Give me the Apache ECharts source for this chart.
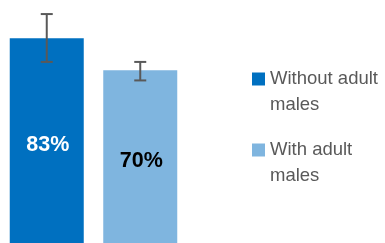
<!DOCTYPE html>
<html>
<head>
<meta charset="utf-8">
<script src="https://cdn.jsdelivr.net/npm/echarts@6/dist/echarts.min.js"></script>
<style>
  html, body { margin: 0; padding: 0; background: #fff; }
  #chart { width: 385px; height: 243px; }
</style>
</head>
<body>
<div id="chart"></div>
<script>
// Values
const categories = ['Without adult males', 'With adult males'];
const values = [83, 70];
const errLow = [73.4, 65.9];
const errHigh = [92.8, 73.4];
const barColors = ['#0070C0', '#7FB5DF'];
const labelColors = ['#ffffff', '#000000'];

const chart = echarts.init(document.getElementById('chart'));

// One bar series per group so that each gets its own legend entry
const barSeries = categories.map((name, i) => ({
    name: name,
    type: 'bar',
    barWidth: 74,
    barGap: '-100%',
    itemStyle: { color: barColors[i] },
    data: values.map((v, j) => (j === i ? v : '-')),
    label: {
        show: true,
        position: 'inside',
        offset: [1, 4],
        formatter: '{c}%',
        color: labelColors[i],
        fontFamily: "'Liberation Sans', Arial, sans-serif",
        fontWeight: 'bold',
        fontSize: 21.5
    },
    z: 2
}));

// Error bars drawn from the low/high arrays
const errorSeries = {
    type: 'custom',
    name: 'error',
    z: 3,
    data: categories.map((c, i) => [i, errLow[i], errHigh[i]]),
    renderItem: function (params, api) {
        const lo = api.coord([api.value(0), api.value(1)]);
        const hi = api.coord([api.value(0), api.value(2)]);
        const half = 6;
        const style = { stroke: '#595959', lineWidth: 2 };
        return {
            type: 'group',
            children: [
                { type: 'line', shape: { x1: hi[0], y1: hi[1], x2: lo[0], y2: lo[1] }, style: style },
                { type: 'line', shape: { x1: hi[0] - half, y1: hi[1], x2: hi[0] + half, y2: hi[1] }, style: style },
                { type: 'line', shape: { x1: lo[0] - half, y1: lo[1], x2: lo[0] + half, y2: lo[1] }, style: style }
            ]
        };
    }
};

// blank first line keeps the square level with the first text line
const legendText = {
    color: '#595959',
    fontFamily: "'Liberation Sans', Arial, sans-serif",
    fontSize: 18.5,
    lineHeight: 26
};
const legendTops = [40, 111];

const option = {
    animation: false,
    grid: { left: -1, right: 198, top: 0, bottom: 0 },
    xAxis: {
        type: 'category',
        data: categories,
        show: false
    },
    yAxis: {
        type: 'value',
        min: 0,
        max: 98.5,
        show: false
    },
    legend: categories.map((name, i) => ({
        data: [name],
        orient: 'vertical',
        left: 252,
        top: legendTops[i],
        padding: 0,
        itemWidth: 13,
        itemHeight: 13,
        icon: 'rect',
        selectedMode: false,
        formatter: n => '\n' + n.replace(/ males$/, '\nmales'),
        textStyle: legendText
    })),
    series: barSeries.concat([errorSeries])
};

chart.setOption(option);
</script>
</body>
</html>
